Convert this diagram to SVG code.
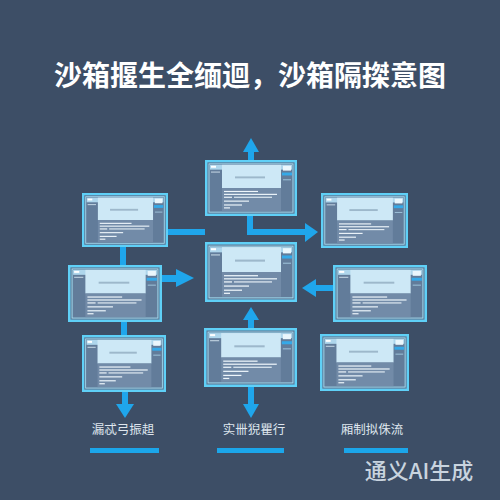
<svg xmlns="http://www.w3.org/2000/svg" xmlns:xlink="http://www.w3.org/1999/xlink" width="500" height="500" viewBox="0 0 500 500">
<style>
.title{font-family:"Noto Sans CJK SC","Noto Sans CJK JP",sans-serif;font-weight:bold;font-size:28px;fill:#ffffff}
.lbl{font-family:"Noto Sans CJK SC","Noto Sans CJK JP",sans-serif;font-size:12.5px;fill:#dfe6ee}
.wm{font-family:"Noto Sans CJK SC","Liberation Sans",sans-serif;font-size:22px;font-weight:500;fill:#c9d4df}
.conn{fill:#1fa6ec}
.bar{fill:#1ba6ea}
</style>
<defs>
<symbol id="win" viewBox="0 0 92 58" preserveAspectRatio="none">
<rect x="1.2" y="1.2" width="89.6" height="55.6" fill="#5e7896" stroke="#5fd0f7" stroke-width="2.4"/>
<rect x="4" y="4" width="84" height="50" fill="#627c9a" stroke="#a6e0f5" stroke-width="0.9"/>
<rect x="5" y="5" width="82" height="5" fill="#aed6ec"/>
<rect x="6" y="6" width="5" height="2" fill="#ffffff"/>
<rect x="6" y="12" width="9" height="1" fill="#c9dbe8"/>
<rect x="17" y="5" width="59" height="24" fill="#cde8f6"/>
<rect x="30" y="17" width="30" height="2" fill="#9db8cb"/>
<rect x="17" y="29" width="59" height="24" fill="#728ba8"/>
<rect x="19" y="32" width="34" height="1.2" fill="#eef6fb"/>
<rect x="19" y="35" width="53" height="1.2" fill="#eef6fb"/>
<rect x="19" y="38" width="8" height="1.2" fill="#eef6fb"/>
<rect x="29" y="38" width="38" height="1.2" fill="#dfeaf2"/>
<rect x="19" y="42" width="25" height="1.2" fill="#eef6fb"/>
<rect x="19" y="46" width="18" height="1.2" fill="#eef6fb"/>
<rect x="19" y="49" width="6" height="1.2" fill="#eef6fb"/>
<rect x="78" y="6" width="8" height="5" fill="#eaf6fc"/>
<rect x="77" y="13" width="10" height="3" fill="#35a9e8"/>
<rect x="78" y="20" width="8" height="1" fill="#9fc4dc"/>
</symbol>
</defs>
<rect width="500" height="500" fill="#3d4e66"/>
<text class="title" x="250" y="86" text-anchor="middle">沙箱揠生全缅迴，沙箱隔搩意图</text>

<g id="connectors">
<rect class="conn" x="248" y="150" width="6" height="11"/>
<polygon class="conn" points="251,138 259,152 243,152"/>
<rect class="conn" x="247" y="215" width="6" height="20"/>
<rect class="conn" x="247" y="229" width="60" height="6"/>
<polygon class="conn" points="318,232 305,223 305,242"/>
<rect class="conn" x="167" y="229" width="38" height="6"/>
<rect class="conn" x="120" y="246" width="6" height="20"/>
<rect class="conn" x="121" y="321" width="6" height="15"/>
<rect class="conn" x="122" y="391" width="6" height="15"/>
<polygon class="conn" points="125,418 116,404 134,404"/>
<rect class="conn" x="161" y="275" width="16" height="7"/>
<polygon class="conn" points="194,278 176,269 176,287"/>
<rect class="conn" x="313" y="285" width="21" height="6"/>
<polygon class="conn" points="302,288 316,279 316,297"/>
<rect class="conn" x="248" y="318" width="6" height="11"/>
<polygon class="conn" points="251,307 259,320 243,320"/>
<rect class="conn" x="248" y="386" width="6" height="20"/>
<polygon class="conn" points="251,418 243,404 259,404"/>
</g>

<g id="node-top"><use xlink:href="#win" x="205" y="160" width="92" height="56"/></g>
<g id="node-left-top"><use xlink:href="#win" x="82" y="193" width="86" height="54"/></g>
<g id="node-right-top"><use xlink:href="#win" x="321" y="193" width="87" height="55"/></g>
<g id="node-center"><use xlink:href="#win" x="205" y="242" width="92" height="60"/></g>
<g id="node-left-mid"><use xlink:href="#win" x="68" y="265" width="94" height="57"/></g>
<g id="node-right-mid"><use xlink:href="#win" x="333" y="265" width="94" height="57"/></g>
<g id="node-left-bottom"><use xlink:href="#win" x="82" y="335" width="84" height="57"/></g>
<g id="node-center-bottom"><use xlink:href="#win" x="204" y="328" width="93" height="59"/></g>
<g id="node-right-bottom"><use xlink:href="#win" x="320" y="334" width="89" height="57"/></g>

<g id="legend">
<text class="lbl" x="123" y="434" text-anchor="middle">漏忒弓振趄</text>
<text class="lbl" x="254" y="434" text-anchor="middle">实卌猊瞿行</text>
<text class="lbl" x="372" y="434" text-anchor="middle">厢制拟侏流</text>
<rect class="bar" x="90" y="448" width="69" height="5"/>
<rect class="bar" x="217" y="448" width="67" height="5"/>
<rect class="bar" x="344" y="448" width="64" height="5"/>
</g>
<text class="wm" x="419" y="479" text-anchor="middle">通义AI生成</text>
</svg>
